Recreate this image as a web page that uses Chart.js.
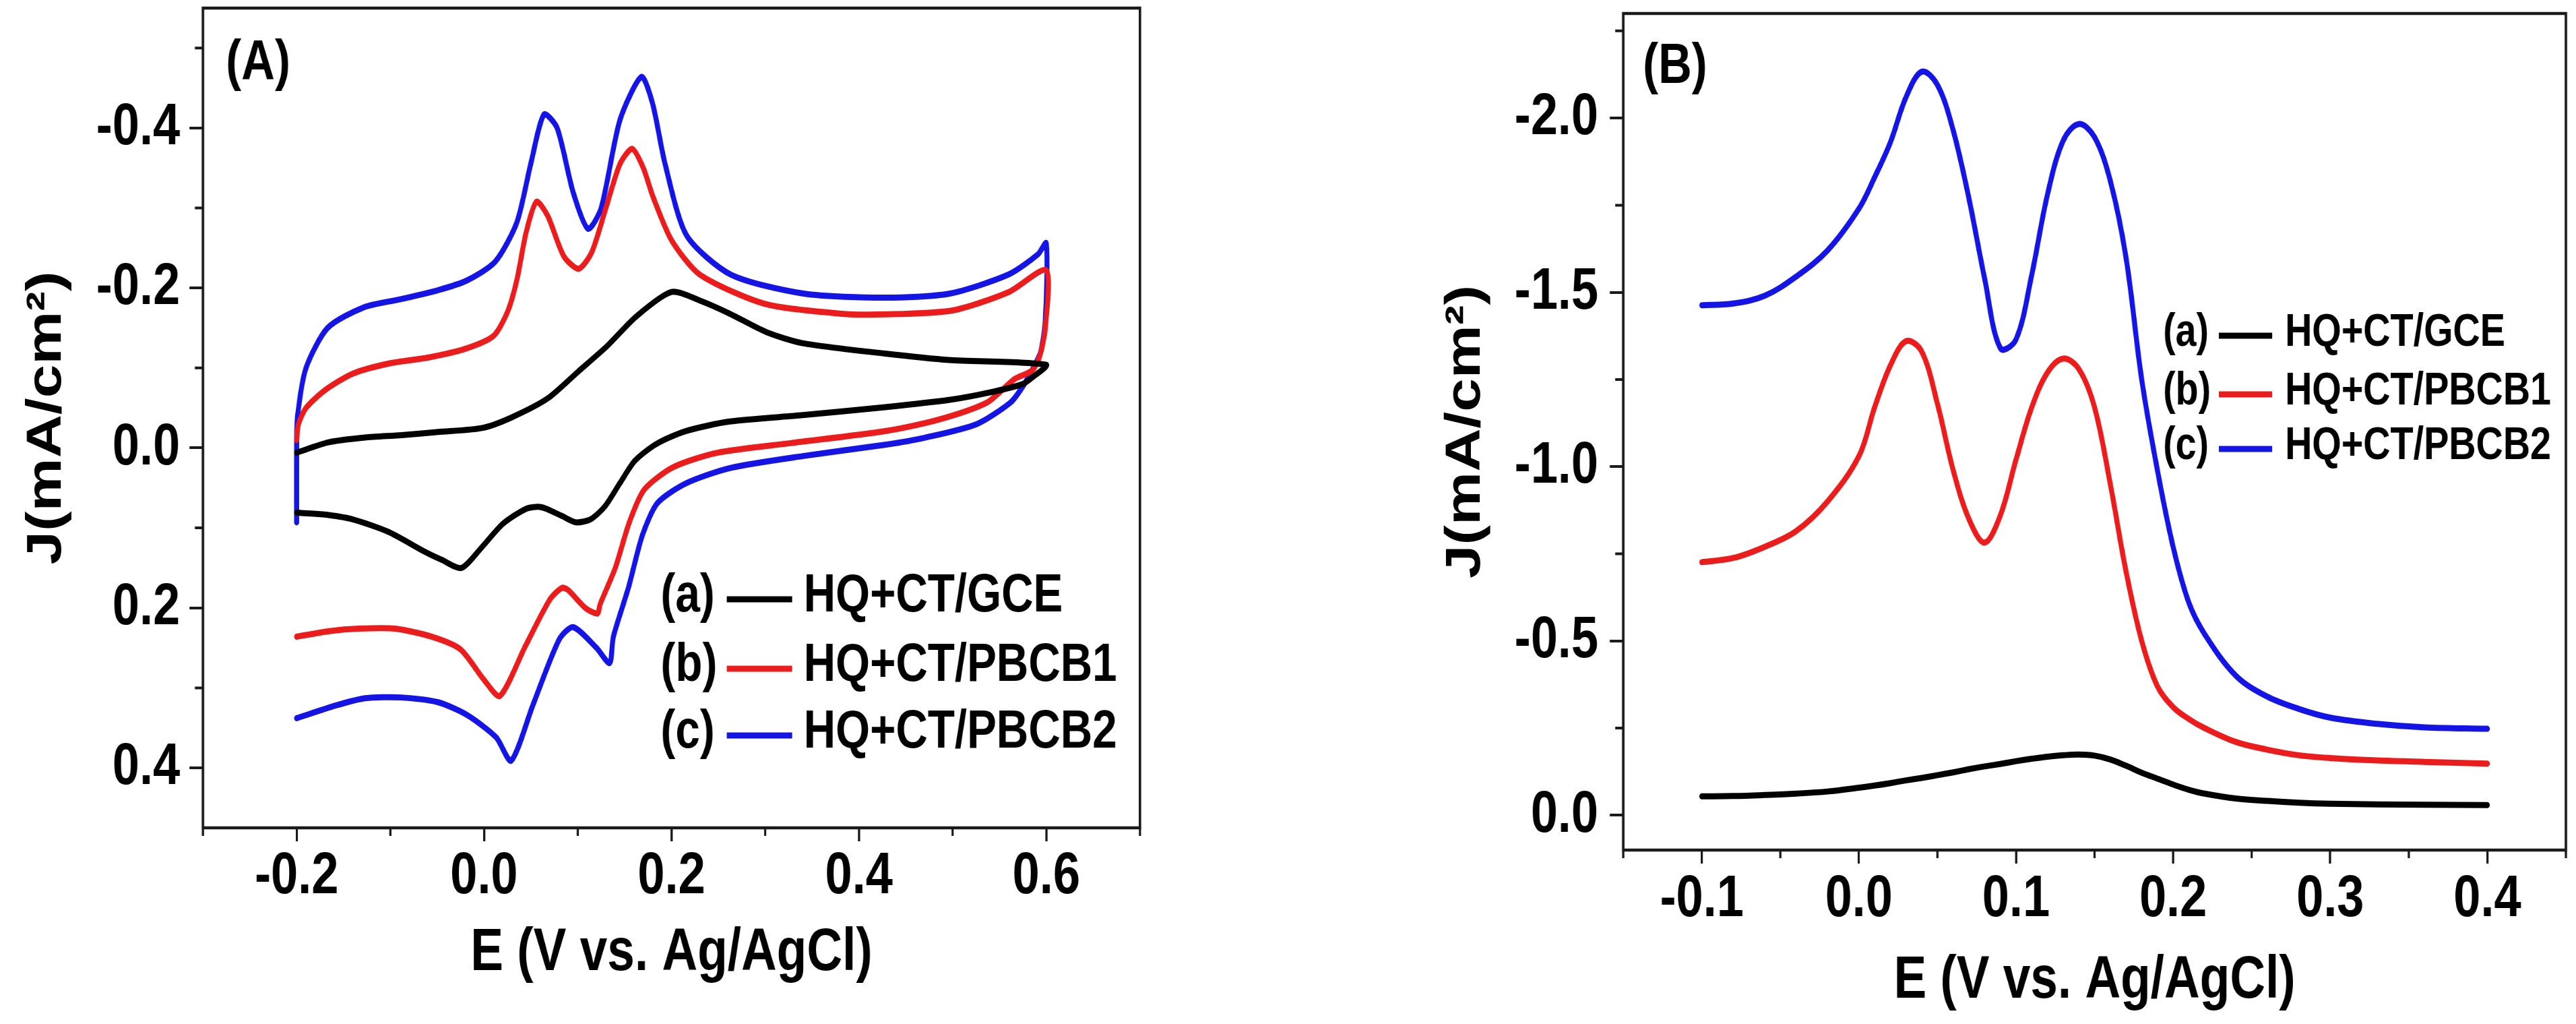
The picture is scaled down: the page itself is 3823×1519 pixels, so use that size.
<!DOCTYPE html>
<html>
<head>
<meta charset="utf-8">
<script src="https://cdn.jsdelivr.net/npm/chart.js@4.4.1/dist/chart.umd.min.js"></script>
<style>
    html, body { margin: 0; padding: 0; background: #fff; }
    body { width: 3823px; height: 1519px; position: relative; overflow: hidden; }
    /* the original figure is squeezed sideways, so each chart is drawn wide and scaled down in x */
    .box { position: absolute; top: 0; height: 1519px; transform-origin: 0 0; transform: scaleX(0.82); }
    #boxA { left: 0; width: 2097.6px; }
    #boxB { left: 2100px; width: 2101.2px; }
</style>
</head>
<body>
<div class="box" id="boxA"><canvas id="cvA"></canvas></div>
<div class="box" id="boxB"><canvas id="cvB"></canvas></div>
<script>
// ---- (A) cyclic voltammograms: forward scan then reverse scan ----
const cvE_a = [-0.2, -0.166, -0.127, -0.088, -0.049, -0.002, 0.029, 0.068, 0.100, 0.131, 0.162, 0.200, 0.231, 0.262, 0.301, 0.340, 0.428, 0.496, 0.600,
               0.586, 0.575, 0.538, 0.496, 0.428, 0.340, 0.262, 0.215, 0.184, 0.161, 0.145, 0.129, 0.114, 0.098, 0.083, 0.061, 0.045, 0.020, -0.003, -0.024, -0.045, -0.063, -0.102, -0.141, -0.172, -0.2];
const cvJ_a = [0.006, -0.007, -0.013, -0.016, -0.020, -0.025, -0.038, -0.062, -0.095, -0.127, -0.164, -0.195, -0.184, -0.168, -0.145, -0.131, -0.118, -0.110, -0.104,
               -0.089, -0.080, -0.069, -0.060, -0.051, -0.041, -0.033, -0.021, -0.005, 0.016, 0.044, 0.073, 0.089, 0.093, 0.085, 0.074, 0.076, 0.095, 0.125, 0.150, 0.140, 0.130, 0.105, 0.089, 0.083, 0.081];

const cvE_b = [-0.2, -0.198, -0.19, -0.17, -0.14, -0.10, -0.06, -0.02, 0.010, 0.025, 0.035, 0.045, 0.056, 0.068, 0.085, 0.101, 0.115, 0.130, 0.145, 0.158, 0.170, 0.180, 0.200, 0.230, 0.300, 0.380, 0.428, 0.500, 0.560, 0.600,
               0.599, 0.593, 0.585, 0.566, 0.537, 0.484, 0.428, 0.327, 0.249, 0.202, 0.171, 0.155, 0.140, 0.124, 0.121, 0.108, 0.090, 0.083, 0.070, 0.044, 0.017, 0.000, -0.025, -0.056, -0.095, -0.134, -0.165, -0.2];
const cvJ_b = [-0.010, -0.030, -0.050, -0.072, -0.093, -0.106, -0.113, -0.124, -0.140, -0.170, -0.210, -0.270, -0.308, -0.290, -0.240, -0.224, -0.245, -0.300, -0.355, -0.374, -0.350, -0.315, -0.260, -0.217, -0.180, -0.168, -0.167, -0.172, -0.195, -0.222,
               -0.150, -0.115, -0.097, -0.086, -0.057, -0.035, -0.021, -0.006, 0.006, 0.024, 0.052, 0.093, 0.150, 0.195, 0.207, 0.200, 0.178, 0.175, 0.190, 0.248, 0.310, 0.290, 0.252, 0.236, 0.226, 0.226, 0.229, 0.236];

const cvE_c = [-0.2, -0.2, -0.199, -0.19, -0.167, -0.128, -0.089, -0.050, -0.019, 0.012, 0.035, 0.050, 0.064, 0.078, 0.095, 0.111, 0.125, 0.145, 0.168, 0.180, 0.193, 0.216, 0.263, 0.341, 0.428, 0.497, 0.560, 0.591, 0.600,
               0.599, 0.594, 0.586, 0.575, 0.562, 0.526, 0.471, 0.428, 0.341, 0.263, 0.216, 0.185, 0.169, 0.154, 0.138, 0.134, 0.120, 0.095, 0.080, 0.052, 0.029, 0.013, -0.018, -0.049, -0.088, -0.127, -0.158, -0.2];
const cvJ_c = [0.093, 0.000, -0.040, -0.100, -0.150, -0.176, -0.186, -0.197, -0.209, -0.233, -0.282, -0.356, -0.417, -0.400, -0.320, -0.274, -0.300, -0.410, -0.464, -0.430, -0.356, -0.266, -0.217, -0.193, -0.188, -0.193, -0.217, -0.242, -0.256,
               -0.160, -0.120, -0.100, -0.077, -0.057, -0.030, -0.013, -0.004, 0.010, 0.025, 0.044, 0.069, 0.109, 0.175, 0.236, 0.269, 0.250, 0.224, 0.240, 0.322, 0.391, 0.362, 0.334, 0.318, 0.312, 0.313, 0.322, 0.338];

// ---- (B) DPV curves ----
const dpvE = [-0.10, -0.08, -0.06, -0.04, -0.02, 0.00, 0.01, 0.02, 0.03, 0.04, 0.05, 0.06, 0.07, 0.08, 0.09, 0.10, 0.11, 0.12, 0.13, 0.14, 0.15, 0.16, 0.17, 0.18, 0.19, 0.20, 0.21, 0.22, 0.24, 0.26, 0.28, 0.30, 0.33, 0.36, 0.40];
const dpvJ_a = [-0.054, -0.055, -0.058, -0.062, -0.068, -0.079, -0.085, -0.092, -0.100, -0.107, -0.115, -0.123, -0.132, -0.140, -0.147, -0.155, -0.162, -0.168, -0.172, -0.174, -0.171, -0.160, -0.142, -0.122, -0.105, -0.088, -0.073, -0.062, -0.048, -0.041, -0.036, -0.033, -0.031, -0.030, -0.029];
const dpvJ_b = [-0.726, -0.738, -0.770, -0.815, -0.900, -1.030, -1.170, -1.290, -1.360, -1.330, -1.180, -0.990, -0.850, -0.782, -0.860, -1.020, -1.170, -1.270, -1.310, -1.280, -1.170, -0.950, -0.700, -0.500, -0.370, -0.310, -0.276, -0.250, -0.210, -0.188, -0.172, -0.164, -0.157, -0.153, -0.148];
const dpvJ_c = [-1.463, -1.468, -1.490, -1.545, -1.620, -1.740, -1.830, -1.930, -2.060, -2.133, -2.095, -1.965, -1.770, -1.540, -1.340, -1.365, -1.550, -1.780, -1.935, -1.983, -1.945, -1.820, -1.600, -1.250, -0.990, -0.770, -0.610, -0.520, -0.400, -0.340, -0.305, -0.280, -0.262, -0.252, -0.248];

const seriesNames = ['HQ+CT/GCE', 'HQ+CT/PBCB1', 'HQ+CT/PBCB2'];
const seriesTags = ['(a)', '(b)', '(c)'];
const seriesColors = ['#000000', '#ec1c1c', '#1414e6'];

const xTicksA = [-0.2, 0.0, 0.2, 0.4, 0.6];
const xMinorA = [-0.3, -0.1, 0.1, 0.3, 0.5, 0.7];
const yTicksA = [-0.4, -0.2, 0.0, 0.2, 0.4];
const yMinorA = [-0.5, -0.3, -0.1, 0.1, 0.3];
const xTicksB = [-0.1, 0.0, 0.1, 0.2, 0.3, 0.4];
const xMinorB = [-0.15, -0.05, 0.05, 0.15, 0.25, 0.35, 0.45];
const yTicksB = [-2.0, -1.5, -1.0, -0.5, 0.0];
const yMinorB = [-2.25, -1.75, -1.25, -0.75, -0.25];

const K = 0.82;                // horizontal squeeze set in the css
const hx = v => v / K;         // screen px -> canvas px along x
const FONT = '"Liberation Sans", Arial, sans-serif';

function toPoints(xs, ys) {
    return xs.map((x, i) => ({ x: x, y: ys[i] }));
}

function makeDatasets(pairs, tension) {
    return pairs.map((p, i) => ({
        label: seriesNames[i],
        data: toPoints(p[0], p[1]),
        borderColor: seriesColors[i],
        borderWidth: 9,
        pointRadius: 0,
        showLine: true,
        fill: false,
        tension: tension,
        borderCapStyle: 'round',
        borderJoinStyle: 'round'
    }));
}

// frame, minor ticks, panel tag and the inline legend
const decorPlugin = {
    id: 'decor',
    afterDraw(chart, args, o) {
        const { ctx, chartArea: a, scales: { x, y } } = chart;
        ctx.save();
        ctx.strokeStyle = '#1a1a1a';
        ctx.lineWidth = 4.5;
        ctx.strokeRect(a.left, a.top, a.right - a.left, a.bottom - a.top);

        ctx.lineWidth = 4;
        ctx.beginPath();
        o.xMinor.forEach(v => {
            const px = x.getPixelForValue(v);
            ctx.moveTo(px, a.bottom); ctx.lineTo(px, a.bottom + 12);
        });
        o.yMinor.forEach(v => {
            const py = y.getPixelForValue(v);
            ctx.moveTo(a.left, py); ctx.lineTo(a.left - hx(12), py);
        });
        ctx.stroke();

        ctx.fillStyle = '#000';
        ctx.textBaseline = 'alphabetic';
        ctx.font = 'bold 84px ' + FONT;
        ctx.fillText(o.tag, hx(o.tagX), o.tagY);

        const lg = o.legend;
        ctx.font = 'bold ' + lg.size + 'px ' + FONT;
        ctx.textBaseline = 'middle';
        chart.data.datasets.forEach((ds, i) => {
            const ry = lg.rows[i];
            ctx.fillStyle = '#000';
            ctx.fillText(seriesTags[i], hx(lg.tagX), ry);
            ctx.fillText(ds.label, hx(lg.textX), ry);
            ctx.strokeStyle = ds.borderColor;
            ctx.lineWidth = 9;
            ctx.beginPath();
            ctx.moveTo(hx(lg.lineX0), ry + 4);
            ctx.lineTo(hx(lg.lineX1), ry + 4);
            ctx.stroke();
        });
        ctx.restore();
    }
};

function axis(opts) {
    const vertical = !!opts.width;
    return {
        type: 'linear',
        min: opts.min,
        max: opts.max,
        reverse: !!opts.reverse,
        afterBuildTicks: s => { s.ticks = opts.ticks.map(v => ({ value: v })); },
        afterFit: s => {
            if (vertical) { s.width = hx(opts.width); s.paddingTop = 0; s.paddingBottom = 0; }
            else { s.height = opts.height; s.paddingLeft = 0; s.paddingRight = 0; }
        },
        border: { display: false },
        grid: { drawOnChartArea: false, color: '#1a1a1a', lineWidth: 4, tickLength: vertical ? hx(20) : 20 },
        ticks: {
            color: '#000',
            padding: vertical ? hx(opts.pad) : opts.pad,
            maxRotation: 0,
            autoSkip: false,
            font: { family: FONT, size: 88, weight: 'bold', lineHeight: 1 },
            callback: v => Number(v).toFixed(1)
        },
        title: {
            display: true,
            text: opts.title,
            color: '#000',
            font: { family: FONT, size: 89, weight: 'bold', lineHeight: 1 },
            padding: opts.titlePad
        }
    };
}

function buildChart(id, cfg) {
    return new Chart(document.getElementById(id), {
        type: 'scatter',
        data: { datasets: cfg.datasets },
        options: {
            responsive: true,
            maintainAspectRatio: false,
            animation: false,
            devicePixelRatio: 1,
            layout: { padding: cfg.padding },
            plugins: {
                legend: { display: false },
                tooltip: { enabled: false },
                decor: cfg.decor
            },
            scales: { x: cfg.x, y: cfg.y }
        },
        plugins: [decorPlugin]
    });
}

// panel A: plot box 301..1691 x 12..1228 (screen px)
buildChart('cvA', {
    datasets: makeDatasets([[cvE_a, cvJ_a], [cvE_b, cvJ_b], [cvE_c, cvJ_c]], 0.25),
    padding: { top: 12, right: hx(1720 - 1691), left: 0, bottom: 0 },
    x: axis({ min: -0.3, max: 0.7, ticks: xTicksA, height: 291, pad: 9, title: 'E (V vs. Ag/AgCl)', titlePad: { top: 0, bottom: 60 } }),
    y: axis({ min: -0.55, max: 0.475, reverse: true, ticks: yTicksA, width: 301, pad: 14, title: 'J(mA/cm²)', titlePad: { top: hx(70) - 44.5, bottom: 0 } }),
    decor: {
        xMinor: xMinorA, yMinor: yMinorA,
        tag: '(A)', tagX: 335, tagY: 118,
        legend: { size: 80, rows: [885, 988, 1087], tagX: 980, lineX0: 1078, lineX1: 1175, textX: 1192 }
    }
});

// panel B: plot box 2409..3808 x 20..1261 (screen px), canvas starts at 2100
buildChart('cvB', {
    datasets: makeDatasets([[dpvE, dpvJ_a], [dpvE, dpvJ_b], [dpvE, dpvJ_c]], 0.35),
    padding: { top: 20, right: hx(3823 - 3808), left: 0, bottom: 0 },
    x: axis({ min: -0.15, max: 0.45, ticks: xTicksB, height: 258, pad: 10, title: 'E (V vs. Ag/AgCl)', titlePad: { top: 0, bottom: 19 } }),
    y: axis({ min: -2.3, max: 0.1, reverse: true, ticks: yTicksB, width: 309, pad: 17, title: 'J(mA/cm²)', titlePad: { top: hx(76) - 44.5, bottom: 0 } }),
    decor: {
        xMinor: xMinorB, yMinor: yMinorB,
        tag: '(B)', tagX: 338, tagY: 123,
        legend: { size: 68, rows: [494, 581, 662], tagX: 1110, lineX0: 1193, lineX1: 1272, textX: 1291 }
    }
});
</script>
</body>
</html>
